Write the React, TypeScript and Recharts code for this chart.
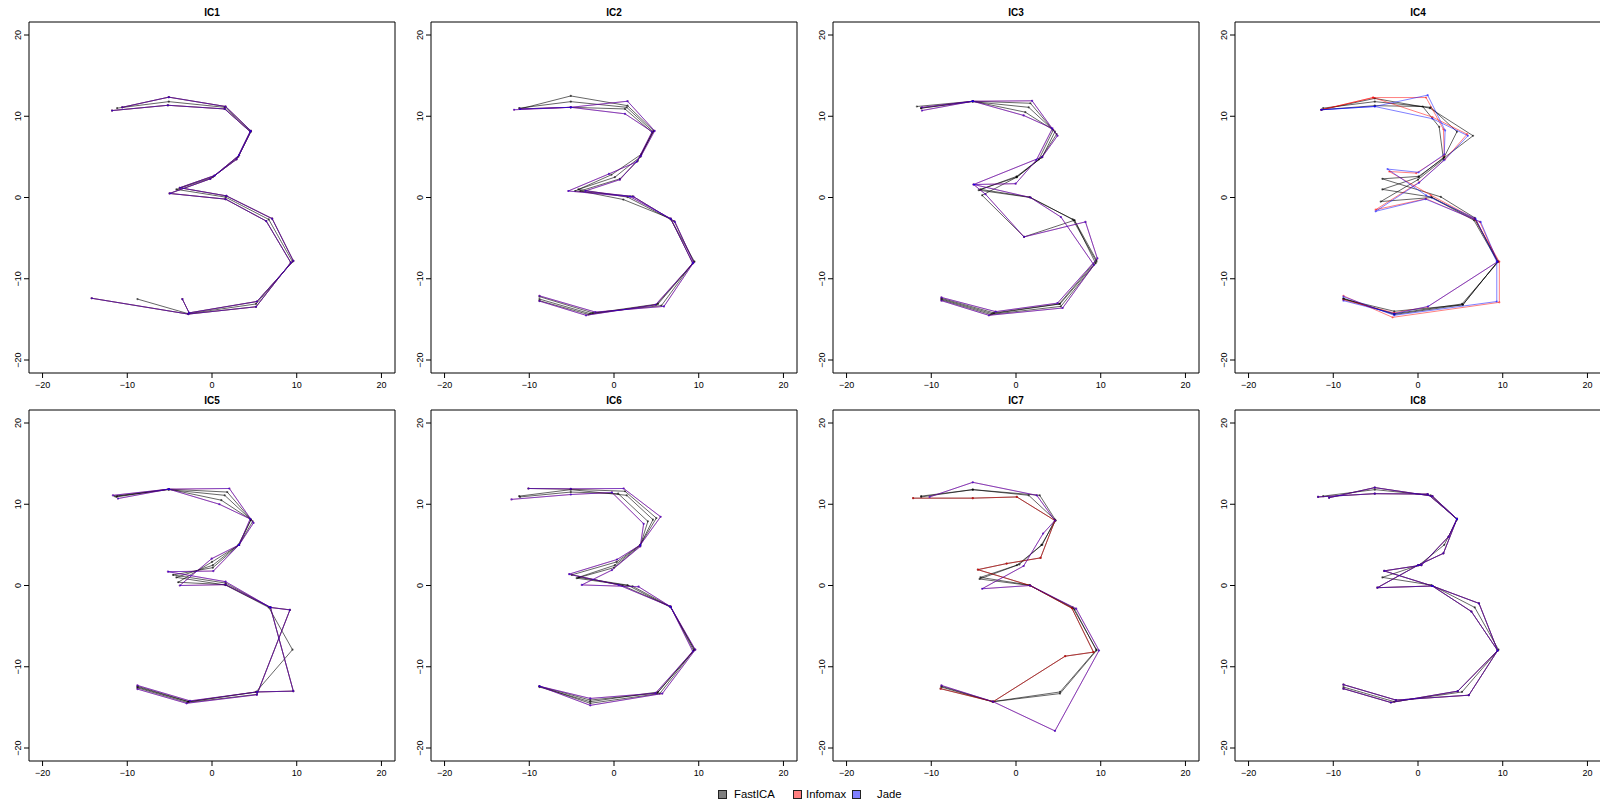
import React from 'react';
import { ScatterChart, Scatter, XAxis, YAxis, ReferenceArea } from 'recharts';

type Pt = [number, number];

const titles = ['IC1', 'IC2', 'IC3', 'IC4', 'IC5', 'IC6', 'IC7', 'IC8'];
const methods = ['FastICA', 'Infomax', 'Jade'];
const axisTicks = [-20, -10, 0, 10, 20];

// mean digit shape, shared by every panel
const meanShape: Pt[] = [[-11.2, 11.0], [-5.1, 11.8], [1.5, 11.1], [4.6, 8.1], [3.1, 5.0], [0.1, 2.5], [-4.2, 1.0], [1.6, 0.05], [6.7, -2.7], [9.5, -7.9], [5.2, -13.1], [-2.8, -14.3], [-8.8, -12.5]];

// IC1
const ic1Lo: Pt[] = [[-11.8, 10.7], [-5.2, 11.35], [1.5, 10.9], [4.5, 8.1], [2.9, 4.7], [-0.2, 2.3], [-5.0, 0.5], [1.6, -0.2], [6.4, -2.9], [9.3, -8.0], [5.2, -13.45], [-2.8, -14.35], [-14.2, -12.4]];
const ic1Hi: Pt[] = [[-10.6, 11.1], [-5.1, 12.35], [1.6, 11.2], [4.6, 8.2], [3.2, 5.2], [0.3, 2.7], [-3.8, 1.2], [1.7, 0.2], [7.1, -2.6], [9.6, -7.8], [5.3, -12.8], [-2.7, -14.2], [-3.5, -12.5]];

// IC2
const ic2FastLo: Pt[] = [[-11.1, 10.9], [-5.1, 11.1], [1.3, 10.9], [4.5, 8.0], [2.8, 4.5], [0.7, 2.3], [-4.0, 0.8], [1.1, -0.25], [6.7, -2.6], [9.3, -8.1], [5.0, -13.2], [-3.0, -14.4], [-8.8, -12.7]];
const ic2FastHi: Pt[] = [[-11.1, 10.9], [-5.1, 12.5], [1.6, 11.3], [4.7, 8.2], [3.2, 5.3], [-0.3, 2.8], [-4.6, 0.8], [2.2, 0.15], [7.1, -2.9], [9.4, -7.9], [5.6, -13.3], [-2.5, -14.2], [-8.8, -12.2]];
const ic2Lo: Pt[] = [[-11.8, 10.8], [-5.1, 11.1], [1.3, 10.3], [4.5, 8.1], [2.7, 4.4], [-0.6, 2.9], [-5.4, 0.8], [1.9, 0.1], [6.7, -2.6], [9.3, -8.1], [4.9, -13.2], [-3.3, -14.5], [-8.8, -12.75]];
const ic2Hi: Pt[] = [[-11.1, 10.9], [-5.1, 11.1], [1.6, 11.85], [4.8, 8.2], [3.2, 5.1], [0.7, 2.2], [-3.4, 0.8], [2.3, 0.1], [7.2, -3.0], [9.4, -8.0], [5.9, -13.4], [-2.2, -14.1], [-8.8, -12.1]];

// IC3
const ic3FastLo: Pt[] = [[-11.7, 11.2], [-5.1, 11.85], [1.1, 10.5], [4.4, 8.3], [2.7, 4.7], [0.08, 2.6], [-4.4, 0.9], [1.7, 0.0], [6.9, -2.8], [9.4, -8.1], [5.3, -13.4], [-3.0, -14.4], [-8.8, -12.6]];
const ic3FastHi: Pt[] = [[-11.2, 11.0], [-5.1, 11.85], [1.7, 11.6], [4.8, 7.8], [3.0, 4.9], [0.08, 2.5], [-4.0, 0.27], [0.95, -4.85], [6.9, -2.8], [9.5, -7.7], [5.1, -13.1], [-2.6, -14.2], [-8.8, -12.4]];
const ic3Lo: Pt[] = [[-11.1, 10.7], [-5.1, 11.85], [0.9, 10.1], [4.3, 8.5], [2.4, 4.6], [-0.04, 1.7], [-5.0, 1.6], [1.7, 0.0], [5.3, -2.4], [9.2, -8.3], [5.5, -13.6], [-3.2, -14.5], [-8.8, -12.7]];
const ic3Hi: Pt[] = [[-11.1, 11.1], [-5.1, 11.85], [1.9, 11.9], [4.9, 7.6], [3.1, 5.0], [-5.0, 1.6], [-3.6, 0.4], [0.95, -4.85], [8.2, -3.0], [9.6, -7.5], [4.9, -13.0], [-2.4, -14.05], [-8.8, -12.3]];

// IC4
const ic4FastLo: Pt[] = [[-11.4, 10.8], [-5.1, 11.3], [0.55, 11.2], [2.5, 8.7], [3.0, 4.7], [0.0, 2.2], [-4.4, -0.5], [1.6, 0.0], [6.6, -2.8], [9.4, -7.9], [5.3, -13.2], [-2.8, -14.4], [-8.8, -12.4]];
const ic4FastHi: Pt[] = [[-11.4, 10.8], [-5.1, 12.2], [1.4, 11.0], [6.5, 7.6], [3.1, 4.9], [0.08, 2.6], [-4.2, 2.3], [2.7, 0.07], [6.7, -2.5], [9.4, -7.9], [5.3, -13.2], [-2.8, -14.0], [-8.8, -12.5]];
const ic4InfoLo: Pt[] = [[-11.4, 10.8], [-5.3, 12.3], [1.7, 9.9], [5.8, 7.8], [3.2, 4.7], [0.16, 1.9], [-5.0, -1.5], [0.95, -0.15], [7.3, -3.0], [9.4, -7.9], [1.14, -13.45], [-2.8, -14.2], [-8.8, -12.6]];
const ic4InfoHi: Pt[] = [[-11.4, 10.8], [-5.3, 12.3], [0.95, 12.3], [3.0, 8.4], [3.1, 5.2], [-0.2, 3.0], [-3.4, 3.2], [1.5, 0.3], [6.7, -2.6], [9.6, -7.9], [9.6, -12.9], [-3.0, -14.75], [-8.8, -12.1]];
const ic4JadeLo: Pt[] = [[-11.4, 10.8], [-5.1, 11.2], [1.7, 9.7], [5.9, 7.6], [3.1, 4.6], [0.1, 1.8], [-5.0, -1.7], [0.9, -0.2], [7.4, -3.0], [9.4, -7.9], [1.2, -13.4], [-2.8, -14.3], [-8.8, -12.7]];
const ic4JadeHi: Pt[] = [[-11.4, 10.8], [-5.1, 11.2], [1.14, 12.6], [3.2, 8.25], [3.1, 5.3], [0.08, 3.1], [-3.6, 3.5], [0.95, 0.27], [6.8, -2.6], [9.3, -7.9], [9.3, -12.8], [-2.8, -14.5], [-8.8, -12.2]];

// IC5
const ic5FastLo: Pt[] = [[-11.5, 11.0], [-5.1, 11.86], [1.1, 10.5], [4.6, 8.1], [3.2, 5.0], [0.1, 2.2], [-4.6, 1.3], [1.6, 0.3], [6.9, -2.7], [9.2, -3.0], [5.3, -13.4], [-2.9, -14.4], [-8.8, -12.6]];
const ic5FastHi: Pt[] = [[-11.3, 10.9], [-5.1, 11.86], [1.8, 11.5], [4.8, 7.9], [3.2, 5.0], [0.0, 2.9], [-4.0, 0.4], [1.6, 0.1], [6.9, -2.7], [9.6, -13.0], [5.3, -13.1], [-2.7, -14.3], [-8.8, -12.4]];
const ic5Lo: Pt[] = [[-11.1, 10.7], [-5.1, 11.86], [0.87, 10.0], [4.5, 8.2], [3.2, 5.0], [0.16, 1.78], [-5.2, 1.7], [1.6, 0.47], [6.9, -2.7], [9.2, -3.0], [5.3, -13.45], [-3.0, -14.5], [-8.8, -12.75]];
const ic5Hi: Pt[] = [[-11.7, 11.1], [-5.1, 11.86], [2.05, 11.94], [4.9, 7.7], [3.2, 5.0], [-0.04, 3.3], [-3.8, 0.0], [1.6, 0.1], [6.9, -2.7], [9.6, -13.0], [5.3, -13.1], [-2.6, -14.2], [-8.8, -12.3]];

// IC6
const ic6FastLo: Pt[] = [[-11.1, 10.9], [-5.1, 11.5], [0.5, 11.3], [4.0, 7.9], [3.1, 4.9], [0.0, 2.2], [-4.4, 0.9], [2.2, -0.1], [6.67, -2.6], [9.4, -8.0], [5.1, -13.25], [-2.8, -14.1], [-8.8, -12.4]];
const ic6FastHi: Pt[] = [[-10.1, 11.94], [-5.1, 11.85], [1.3, 11.6], [5.0, 8.3], [3.1, 5.0], [0.3, 2.9], [-5.0, 1.3], [1.0, 0.0], [6.67, -2.6], [9.5, -7.9], [5.4, -13.3], [-2.8, -14.5], [-8.8, -12.4]];
const ic6Lo: Pt[] = [[-12.1, 10.6], [-5.1, 11.2], [-0.24, 11.45], [3.5, 7.6], [3.1, 4.8], [-0.24, 1.9], [-3.8, 0.07], [2.9, -0.15], [6.67, -2.6], [9.3, -8.1], [4.9, -13.25], [-2.8, -13.9], [-8.8, -12.4]];
const ic6Hi: Pt[] = [[-10.1, 11.94], [-5.1, 11.9], [1.14, 11.94], [5.5, 8.46], [3.1, 4.98], [0.36, 3.2], [-5.3, 1.4], [0.55, 0.07], [6.67, -2.6], [9.6, -7.9], [5.7, -13.3], [-2.8, -14.75], [-8.8, -12.4]];

// IC7
const ic7FastHi: Pt[] = [[-11.2, 10.9], [-5.1, 11.8], [2.8, 11.1], [4.7, 8.0], [3.0, 5.0], [0.4, 2.6], [-4.3, 0.8], [1.66, 0.0], [6.9, -2.9], [9.5, -8.0], [5.2, -13.3], [-2.7, -14.3], [-8.8, -12.4]];
const ic7Lo: Pt[] = [[-12.15, 10.75], [-5.1, 10.75], [0.1, 10.9], [4.6, 8.0], [2.9, 3.4], [-1.1, 2.7], [-4.5, 1.95], [1.66, 0.0], [6.6, -2.8], [9.15, -8.2], [5.8, -8.7], [-2.7, -14.3], [-8.9, -12.7]];
const ic7Hi: Pt[] = [[-10.2, 10.9], [-5.1, 12.7], [2.45, 11.1], [4.6, 8.0], [3.2, 6.4], [0.9, 2.4], [-4.0, -0.4], [1.66, 0.0], [7.1, -2.85], [9.8, -8.0], [4.6, -17.9], [-2.7, -14.3], [-8.8, -12.3]];

// IC8
const ic8Lo: Pt[] = [[-11.8, 10.9], [-5.1, 11.3], [1.14, 11.25], [4.6, 8.2], [3.0, 3.96], [0.0, 2.5], [-4.8, -0.27], [1.7, -0.06], [6.3, -3.2], [9.4, -8.0], [4.7, -13.0], [-3.2, -14.4], [-8.8, -12.7]];
const ic8Hi: Pt[] = [[-10.5, 10.8], [-5.1, 12.05], [1.7, 11.0], [4.6, 8.2], [3.6, 6.0], [0.4, 2.5], [-4.0, 1.8], [1.7, -0.06], [7.2, -2.2], [9.4, -8.0], [6.0, -13.5], [-2.6, -14.1], [-8.8, -12.2]];

const panels: { fast: Pt[][]; info: Pt[][]; jade: Pt[][] }[] = [
  { fast: [ic1Lo, ic1Hi], info: [ic1Lo, ic1Hi], jade: [ic1Lo, ic1Hi] },
  { fast: [ic2FastLo, ic2FastHi], info: [ic2Lo, ic2Hi], jade: [ic2Lo, ic2Hi] },
  { fast: [ic3FastLo, ic3FastHi], info: [ic3Lo, ic3Hi], jade: [ic3Lo, ic3Hi] },
  { fast: [ic4FastLo, ic4FastHi], info: [ic4InfoLo, ic4InfoHi], jade: [ic4JadeLo, ic4JadeHi] },
  { fast: [ic5FastLo, ic5FastHi], info: [ic5Lo, ic5Hi], jade: [ic5Lo, ic5Hi] },
  { fast: [ic6FastLo, ic6FastHi], info: [ic6Lo, ic6Hi], jade: [ic6Lo, ic6Hi] },
  { fast: [ic7Lo, ic7FastHi], info: [ic7Lo, ic7Hi], jade: [ic7Hi] },
  { fast: [ic8Lo, ic8Hi], info: [ic8Lo, ic8Hi], jade: [ic8Lo, ic8Hi] },
];

const lineColors = ['rgba(0,0,0,0.6)', 'rgba(255,0,0,0.5)', 'rgba(0,0,255,0.5)'];
const legendFill = ['#7f7f7f', '#ff8080', '#8080ff'];

const toPts = (arr: Pt[]) => arr.map(([x, y]) => ({ x, y }));
const fmt = (v: number) => (v < 0 ? `\u2212${Math.abs(v)}` : `${v}`);

const dot = (color: string) => (props: any) => (
  <circle cx={props.cx} cy={props.cy} r={1.1} fill={color} />
);

const YTick = ({ x, y, payload }: any) => (
  <text x={x} y={y} transform={`rotate(-90 ${x} ${y})`} textAnchor="middle" fontSize={9} fill="#000">
    {fmt(payload.value)}
  </text>
);

const LIM = 21.6;

const Panel = ({ idx }: { idx: number }) => {
  const p = panels[idx];
  const col = idx % 4;
  const row = Math.floor(idx / 4);
  const left = -1 + 402 * col;
  const top = 388 * row;
  const curves: { data: Pt[]; color: string }[] = [
    { data: meanShape, color: lineColors[0] },
    ...p.fast.map((d) => ({ data: d, color: lineColors[0] })),
    ...p.info.map((d) => ({ data: d, color: lineColors[1] })),
    ...p.jade.map((d) => ({ data: d, color: lineColors[2] })),
  ];
  return (
    <>
      <div
        style={{
          position: 'absolute',
          left: left + 30,
          top: top + 6,
          width: 366,
          textAlign: 'center',
          fontSize: 10,
          fontWeight: 'bold',
          lineHeight: '14px',
        }}
      >
        {titles[idx]}
      </div>
      <div style={{ position: 'absolute', left, top }}>
        <ScatterChart width={402} height={403} margin={{ top: 22, right: 6, left: 0, bottom: 0 }}>
          <XAxis
            type="number"
            dataKey="x"
            domain={[-LIM, LIM]}
            ticks={axisTicks}
            interval={0}
            allowDataOverflow
            axisLine={false}
            tickSize={5}
            tickMargin={4}
            tickLine={{ stroke: '#000' }}
            tick={{ fontSize: 9, fill: '#000' }}
            tickFormatter={fmt}
            height={30}
          />
          <YAxis
            type="number"
            dataKey="y"
            domain={[-LIM, LIM]}
            ticks={axisTicks}
            interval={0}
            allowDataOverflow
            axisLine={false}
            tickSize={5}
            tickMargin={3}
            tickLine={{ stroke: '#000' }}
            tick={<YTick />}
            width={30}
          />
          <ReferenceArea x1={-LIM} x2={LIM} y1={-LIM} y2={LIM} fill="none" fillOpacity={0} stroke="#000" strokeWidth={1} />
          {curves.map((c, i) => (
            <Scatter
              key={i}
              data={toPts(c.data)}
              fill={c.color}
              line={{ stroke: c.color, strokeWidth: 1 }}
              lineType="joint"
              shape={dot(c.color)}
              isAnimationActive={false}
            />
          ))}
        </ScatterChart>
      </div>
    </>
  );
};

const legendPos = [
  { box: 718, text: 734 },
  { box: 793, text: 806 },
  { box: 852, text: 877 },
];

export default function App() {
  return (
    <div
      style={{
        position: 'absolute',
        left: 0,
        top: 0,
        width: 1600,
        height: 806,
        overflow: 'hidden',
        background: '#fff',
        fontFamily: '"Liberation Sans", Arial, sans-serif',
      }}
    >
      {titles.map((_, i) => (
        <Panel key={i} idx={i} />
      ))}
      {methods.map((m, i) => (
        <React.Fragment key={m}>
          <div
            style={{
              position: 'absolute',
              left: legendPos[i].box,
              top: 790,
              width: 7,
              height: 7,
              background: legendFill[i],
              border: '1px solid #222',
            }}
          />
          <div style={{ position: 'absolute', left: legendPos[i].text, top: 786, fontSize: 11.3, lineHeight: '16px' }}>
            {m}
          </div>
        </React.Fragment>
      ))}
    </div>
  );
}
